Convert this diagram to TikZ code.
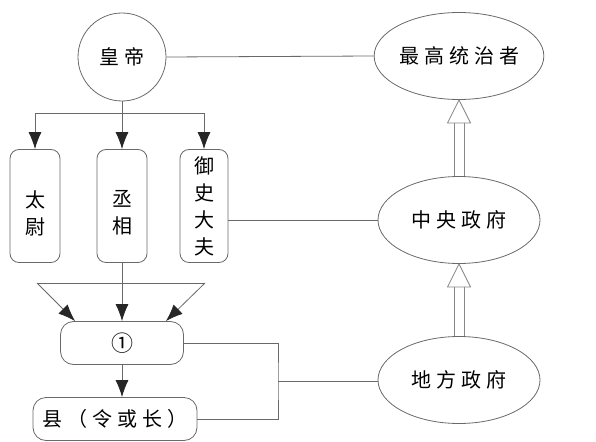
\documentclass[tikz,border=0pt]{standalone}
\usepackage{fontspec}
\newfontfamily\cjk[LetterSpace=25]{Noto Sans CJK SC}
\usetikzlibrary{shapes.geometric, arrows.meta, positioning}
\definecolor{linegray}{RGB}{105,105,105}

\begin{document}
\begin{tikzpicture}[x=1pt, y=-1pt, line width=0.8pt,
    every node/.style={font=\cjk\fontsize{20}{27}\selectfont, text=black},
    oval/.style={ellipse, draw=linegray, minimum width=162pt, minimum height=87pt, inner sep=0pt},
    vbox/.style={draw=linegray, rounded corners=9pt, minimum width=50pt, minimum height=113pt, align=center, inner sep=0pt},
    hbox/.style={draw=linegray, rounded corners=13pt, minimum height=43pt, inner sep=0pt},
    link/.style={draw=linegray},
    arr/.style={draw=linegray, -{Latex[length=17pt, width=13pt, color=black!85]}},
    shaft/.style={draw=linegray!80}]
    \useasboundingbox (0,0) rectangle (596,441);

    % Emperor and the three ministers
    \node[circle, draw=linegray, minimum size=88pt, inner sep=0pt] at (122,57) (hd) {皇帝};
    \node[vbox] at (35,206) (tw) {};
    \node[align=center] at ([yshift=-7pt]tw.center) (twt) {太\\尉};
    \node[vbox] at (122,206) (cx) {};
    \node[align=center] at ([yshift=-7pt]cx.center) (cxt) {丞\\相};
    \node[vbox, minimum width=48pt] at (204,206) (ys) {御\\史\\大\\夫};

    % Local levels
    \node[hbox, minimum width=123pt] at (122,343) (one) {\fontsize{22}{26}\selectfont ①};
    \node[hbox, minimum width=164pt] at (115,419) (xian) {县（令或长）};

    % Right column
    \node[oval] at (459,56) (zg) {最高统治者};
    \node[oval] at (459,220) (zy) {中央政府};
    \node[oval] at (459,380) (df) {地方政府};

    % Emperor to ministers
    \coordinate (br) at (122,113);
    \draw[link] (hd.south) -- (br);
    \draw[arr] (br) -| (tw.north);
    \draw[arr] (br) -- (cx.north);
    \draw[arr] (br) -| (ys.north);

    % Ministers to the commanderies
    \coordinate (hl) at (37,283);
    \coordinate (hr) at (205,283);
    \draw[link] (hl) -- (hr);
    \draw[arr] (hl) -- ([xshift=15pt]one.north west);
    \draw[arr] (hr) -- ([xshift=-18pt]one.north east);
    \draw[arr] (cx.south) -- (one.north);
    \draw[arr] (one.south) -- (one.south |- xian.north);

    % Links to the right column
    \draw[link] (hd.east) -- (zg.west);
    \draw[link] (zy.west -| ys.east) -- (zy.west);
    \coordinate (bk) at (278,381);
    \draw[link] (one.east) -| (bk) |- (xian.east);
    \draw[link] (bk) -- (bk -| df.west);

    % Hollow arrows
    \foreach \s in {-5pt, 5pt} {
        \draw[shaft] ([xshift=\s]df.north) -- ([xshift=\s, yshift=-23pt]zy.south);
        \draw[shaft] ([xshift=\s]zy.north) -- ([xshift=\s, yshift=-23pt]zg.south);
    }
    \draw[shaft] (zy.south) -- ++(-11.5,23) -- ++(23,0) -- cycle;
    \draw[shaft] (zg.south) -- ++(-11.5,23) -- ++(23,0) -- cycle;
\end{tikzpicture}
\end{document}
